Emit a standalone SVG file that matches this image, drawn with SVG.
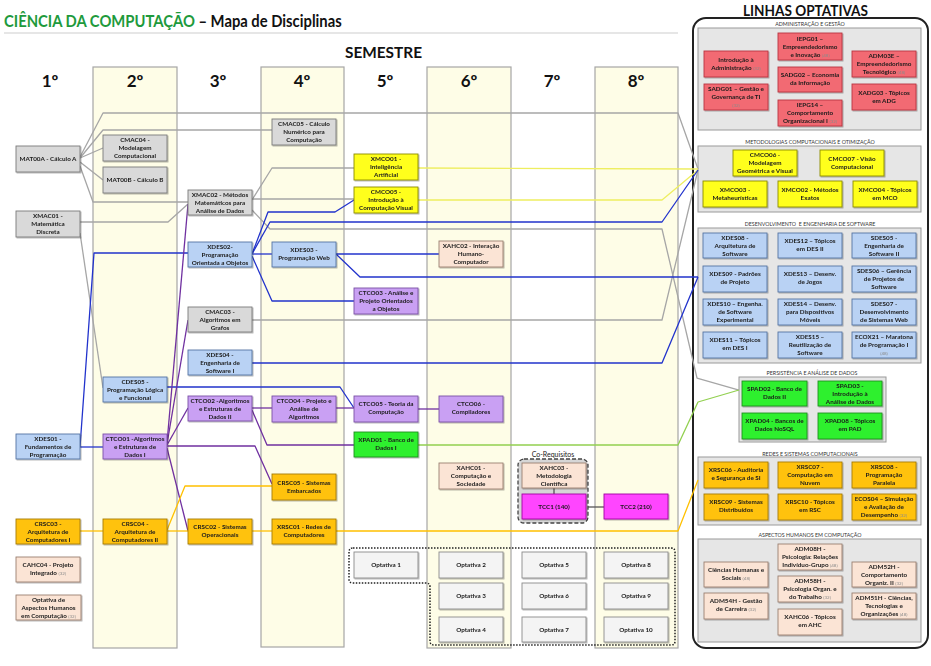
<svg xmlns="http://www.w3.org/2000/svg" width="931" height="666" viewBox="0 0 931 666">
<defs>
<style>
.band{fill:#fefde7;stroke:#a6a6a6;stroke-width:1.2}
.hdr{font-family:Lato,"Liberation Sans",sans-serif;font-weight:bold;font-size:17px;fill:#111;text-anchor:middle}
.n rect{stroke-width:0.9}
.t{font-family:Lato,"Liberation Sans",sans-serif;font-weight:bold;font-size:6.3px;fill:#1a1a1a;text-anchor:middle}
.s{font-size:4.5px;font-weight:normal;fill:#8a8a8a}
.gray{fill:#d9d9d9;stroke:#7a7a7a}
.blue{fill:#b9d2f4;stroke:#5573a3}
.purp{fill:#c9a0f3;stroke:#7a4fa5}
.yel{fill:#ffff1e;stroke:#8c8c00}
.org{fill:#ffc20e;stroke:#a67c00}
.grn{fill:#2ef02e;stroke:#1f8f1f}
.pch{fill:#fbe4d5;stroke:#9a7f70}
.mag{fill:#ff44ff;stroke:#a000a0}
.red{fill:#f26b73;stroke:#b8343e}
.opt{fill:#f4f4f4;stroke:#8a8a8a}
.grp{fill:#e6e6e6;stroke:#9a9a9a;stroke-width:1}
.gl{font-family:Lato,"Liberation Sans",sans-serif;font-size:5.3px;fill:#333;text-anchor:middle}
.c{fill:none;stroke-width:1.3;stroke-linejoin:round}
.cg{stroke:#a6a6a6}
.cb{stroke:#2233cc}
.cp{stroke:#7030a0}
.cy{stroke:#eeee60}
.cgr{stroke:#92d050}
.co{stroke:#ffc000}
.cd{stroke:#555}
</style>
<filter id="sh" x="-10%" y="-10%" width="130%" height="140%">
<feDropShadow dx="1" dy="1" stdDeviation="0.6" flood-color="#000" flood-opacity="0.3"/>
</filter>
</defs>
<rect width="931" height="666" fill="#fff"/>

<!-- Title -->
<g transform="translate(4,27) scale(0.87,1)">
<text x="0" y="0" font-family="Lato,'Liberation Sans',sans-serif" font-weight="bold" font-size="17" fill="#111"><tspan fill="#1e9a3c">CIÊNCIA DA COMPUTAÇÃO</tspan> – Mapa de Disciplinas</text>
</g>
<line x1="4" y1="33" x2="678" y2="33" stroke="#e6e6e6" stroke-width="2"/>
<text x="345" y="58" font-family="Lato,'Liberation Sans',sans-serif" font-weight="bold" font-size="15" fill="#111" textLength="77" lengthAdjust="spacingAndGlyphs">SEMESTRE</text>

<!-- bands -->
<g id="bands">
<rect class="band" x="93" y="67" width="84" height="581"/>
<rect class="band" x="261" y="67" width="83" height="580"/>
<rect class="band" x="427" y="67" width="84" height="581"/>
<rect class="band" x="595" y="67" width="83" height="581"/>
</g>
<g id="headers">
<text class="hdr" x="50" y="87">1º</text>
<text class="hdr" x="135" y="87">2º</text>
<text class="hdr" x="218" y="87">3º</text>
<text class="hdr" x="302" y="87">4º</text>
<text class="hdr" x="385" y="87">5º</text>
<text class="hdr" x="469" y="87">6º</text>
<text class="hdr" x="552" y="87">7º</text>
<text class="hdr" x="636" y="87">8º</text>
</g>

<!-- LINHAS OPTATIVAS container -->
<text x="743" y="16" font-family="Lato,'Liberation Sans',sans-serif" font-weight="bold" font-size="15" fill="#111" textLength="125" lengthAdjust="spacingAndGlyphs">LINHAS OPTATIVAS</text>
<rect x="693" y="18" width="235" height="630" rx="13" fill="#fff" stroke="#222" stroke-width="2"/>
<g id="groups">
<rect class="grp" x="698" y="28" width="223" height="102"/>
<text class="gl" x="810" y="26">ADMINISTRAÇÃO E GESTÃO</text>
<rect class="grp" x="698" y="146" width="223" height="66"/>
<text class="gl" x="810" y="144">METODOLOGIAS COMPUTACIONAIS E OTIMIZAÇÃO</text>
<rect class="grp" x="698" y="228" width="223" height="135"/>
<text class="gl" x="810" y="225.5" xml:space="preserve">DESENVOLVIMENTO  E ENGENHARIA DE SOFTWARE</text>
<rect class="grp" x="739" y="377" width="147" height="65"/>
<text class="gl" x="812" y="375">PERSISTÊNCIA E ANÁLISE DE DADOS</text>
<rect class="grp" x="698" y="457" width="223" height="68"/>
<text class="gl" x="810" y="455.5">REDES E SISTEMAS COMPUTACIONAIS</text>
<rect class="grp" x="698" y="539" width="223" height="103"/>
<text class="gl" x="810" y="537">ASPECTOS HUMANOS EM COMPUTAÇÃO</text>
</g>

<!-- connectors -->
<g id="connectors">
<polyline class="c cg" points="80,157 103,113 678,113 698,169"/>
<polyline class="c cg" points="80,158 103,130 272,130"/>
<polyline class="c cg" points="80,158 103,148"/>
<polyline class="c cg" points="80,162 103,180"/>
<polyline class="c cg" points="80,166 93,202 188,202"/>
<polyline class="c cg" points="80,222 168,222 188,204"/>
<polyline class="c cg" points="80,233 103,388"/>
<polyline class="c cg" points="252,200 272,168 354,168"/>
<polyline class="c cg" points="252,199 354,199"/>
<polyline class="c cg" points="252,210 270,229 662,229 697,378 739,390"/>
<polyline class="c cg" points="252,320 662,320 698,170"/>

<polyline class="c cy" points="418,168 698,169"/>
<polyline class="c cy" points="418,200 662,200 698,170"/>

<polyline class="c cb" points="80,447 103,447"/>
<polyline class="c cb" points="80,447 94,253 188,253"/>
<polyline class="c cb" points="252,254 272,254"/>
<polyline class="c cb" points="252,254 268,212 335,212 354,200"/>
<polyline class="c cb" points="252,254 270,222 662,222 698,170"/>
<polyline class="c cb" points="252,256 272,301 354,301"/>
<polyline class="c cb" points="336,254 439,254"/>
<polyline class="c cb" points="336,254 360,277 698,277"/>
<polyline class="c cb" points="252,363 662,363 698,277"/>
<polyline class="c cb" points="167,387 340,387 354,408"/>

<polyline class="c cp" points="167,443 188,204"/>
<polyline class="c cp" points="167,444 188,320"/>
<polyline class="c cp" points="167,445 188,408"/>
<polyline class="c cp" points="167,446 255,446 272,484"/>
<polyline class="c cp" points="167,448 188,531"/>
<polyline class="c cp" points="252,408 272,408"/>
<polyline class="c cp" points="252,410 267,445 354,445"/>
<polyline class="c cp" points="336,408 354,408"/>
<polyline class="c cp" points="418,409 439,409"/>

<polyline class="c cgr" points="418,445 678,445 698,402 739,390"/>

<polyline class="c co" points="80,531 103,531"/>
<polyline class="c co" points="167,531 188,531"/>
<polyline class="c co" points="167,530 185,486 272,486"/>
<polyline class="c co" points="252,531 272,531"/>
<polyline class="c co" points="336,531 678,531 698,480"/>

<polyline class="c cd" points="586,507 604,507"/>
</g>

<!-- co-requisites and optativas frames -->
<g id="coreq">
<text x="553" y="457" font-family="Lato,'Liberation Sans',sans-serif" font-size="7" fill="#222" text-anchor="middle">Co-Requisitos</text>
<rect x="518" y="459" width="70" height="64" rx="6" fill="#d6d6d6" stroke="#444" stroke-width="1.3" stroke-dasharray="4 2"/>
<line x1="554" y1="488" x2="554" y2="494" stroke="#555" stroke-width="1.3"/>
</g>
<path id="optframe" d="M353,548 H671 Q675,548 675,552 V641 Q675,645 671,645 H434 Q430,645 430,641 V587 Q430,583 426,583 H353 Q349,583 349,579 V552 Q349,548 353,548 Z" fill="none" stroke="#222" stroke-width="1.5" stroke-dasharray="1.5 1.5"/>

<!-- Column 1 -->
<g id="MAT00A" class="n" filter="url(#sh)"><rect class="gray" x="16" y="146" width="64" height="26"/><text class="t"><tspan x="48" y="161">MAT00A - Cálculo A</tspan></text></g>
<g id="XMAC01" class="n" filter="url(#sh)"><rect class="gray" x="16" y="211" width="64" height="26"/><text class="t"><tspan x="48" y="218">XMAC01 -</tspan><tspan x="48" y="226">Matemática</tspan><tspan x="48" y="234">Discreta</tspan></text></g>
<g id="XDES01" class="n" filter="url(#sh)"><rect class="blue" x="16" y="434" width="64" height="25"/><text class="t"><tspan x="48" y="441">XDES01 -</tspan><tspan x="48" y="449">Fundamentos de</tspan><tspan x="48" y="457">Programação</tspan></text></g>
<g id="CRSC03" class="n" filter="url(#sh)"><rect class="org" x="16" y="519" width="64" height="25"/><text class="t"><tspan x="48" y="526">CRSC03 -</tspan><tspan x="48" y="534">Arquitetura de</tspan><tspan x="48" y="542">Computadores I</tspan></text></g>
<g id="CAHC04" class="n" filter="url(#sh)"><rect class="pch" x="16" y="557" width="64" height="25"/><text class="t"><tspan x="48" y="567">CAHC04 - Projeto</tspan><tspan x="48" y="575">Integrado <tspan class="s">(32)</tspan></tspan></text></g>
<g id="OPTAHC" class="n" filter="url(#sh)"><rect class="pch" x="16" y="595" width="65" height="25"/><text class="t"><tspan x="48.5" y="602">Optativa de</tspan><tspan x="48.5" y="610">Aspectos Humanos</tspan><tspan x="48.5" y="618">em Computação <tspan class="s">(32)</tspan></tspan></text></g>

<!-- Column 2 -->
<g id="CMAC04" class="n" filter="url(#sh)"><rect class="gray" x="103" y="135" width="64" height="26"/><text class="t"><tspan x="135" y="142">CMAC04 -</tspan><tspan x="135" y="150">Modelagem</tspan><tspan x="135" y="158">Computacional</tspan></text></g>
<g id="MAT00B" class="n" filter="url(#sh)"><rect class="gray" x="103" y="167" width="64" height="26"/><text class="t"><tspan x="135" y="182">MAT00B - Cálculo B</tspan></text></g>
<g id="CDES05" class="n" filter="url(#sh)"><rect class="blue" x="103" y="377" width="64" height="25"/><text class="t"><tspan x="135" y="384">CDES05 -</tspan><tspan x="135" y="392">Programação Lógica</tspan><tspan x="135" y="400">e Funcional</tspan></text></g>
<g id="CTCO01" class="n" filter="url(#sh)"><rect class="purp" x="103" y="434" width="64" height="25"/><text class="t"><tspan x="135" y="441">CTCO01 -Algoritmos</tspan><tspan x="135" y="449">e Estruturas de</tspan><tspan x="135" y="457">Dados I</tspan></text></g>
<g id="CRSC04" class="n" filter="url(#sh)"><rect class="org" x="103" y="519" width="64" height="25"/><text class="t"><tspan x="135" y="526">CRSC04 -</tspan><tspan x="135" y="534">Arquitetura de</tspan><tspan x="135" y="542">Computadores II</tspan></text></g>

<!-- Column 3 -->
<g id="XMAC02" class="n" filter="url(#sh)"><rect class="gray" x="188" y="190" width="64" height="25"/><text class="t"><tspan x="220" y="197">XMAC02 - Métodos</tspan><tspan x="220" y="205">Matemáticos para</tspan><tspan x="220" y="213">Análise de Dados</tspan></text></g>
<g id="XDES02" class="n" filter="url(#sh)"><rect class="blue" x="188" y="242" width="64" height="25"/><text class="t"><tspan x="220" y="249">XDES02-</tspan><tspan x="220" y="257">Programação</tspan><tspan x="220" y="265">Orientada a Objetos</tspan></text></g>
<g id="CMAC03" class="n" filter="url(#sh)"><rect class="gray" x="188" y="307" width="64" height="25"/><text class="t"><tspan x="220" y="314">CMAC03 -</tspan><tspan x="220" y="322">Algoritmos em</tspan><tspan x="220" y="330">Grafos</tspan></text></g>
<g id="XDES04" class="n" filter="url(#sh)"><rect class="blue" x="188" y="350" width="64" height="25"/><text class="t"><tspan x="220" y="357">XDES04 -</tspan><tspan x="220" y="365">Engenharia de</tspan><tspan x="220" y="373">Software I</tspan></text></g>
<g id="CTCO02" class="n" filter="url(#sh)"><rect class="purp" x="188" y="396" width="64" height="25"/><text class="t"><tspan x="220" y="403">CTCO02 -Algoritmos</tspan><tspan x="220" y="411">e Estruturas de</tspan><tspan x="220" y="419">Dados II</tspan></text></g>
<g id="CRSC02" class="n" filter="url(#sh)"><rect class="org" x="188" y="519" width="64" height="25"/><text class="t"><tspan x="220" y="529">CRSC02 - Sistemas</tspan><tspan x="220" y="537">Operacionais</tspan></text></g>

<!-- Column 4 -->
<g id="CMAC05" class="n" filter="url(#sh)"><rect class="gray" x="272" y="119" width="64" height="26"/><text class="t"><tspan x="304" y="126">CMAC05 - Cálculo</tspan><tspan x="304" y="134">Numérico para</tspan><tspan x="304" y="142">Computação</tspan></text></g>
<g id="XDES03" class="n" filter="url(#sh)"><rect class="blue" x="272" y="242" width="64" height="25"/><text class="t"><tspan x="304" y="252">XDES03 -</tspan><tspan x="304" y="260">Programação Web</tspan></text></g>
<g id="CTCO04" class="n" filter="url(#sh)"><rect class="purp" x="272" y="396" width="64" height="26"/><text class="t"><tspan x="304" y="403">CTCO04 - Projeto e</tspan><tspan x="304" y="411">Análise de</tspan><tspan x="304" y="419">Algoritmos</tspan></text></g>
<g id="CRSC05" class="n" filter="url(#sh)"><rect class="org" x="272" y="474" width="64" height="26"/><text class="t"><tspan x="304" y="485">CRSC05 - Sistemas</tspan><tspan x="304" y="493">Embarcados</tspan></text></g>
<g id="XRSC01" class="n" filter="url(#sh)"><rect class="org" x="272" y="519" width="64" height="25"/><text class="t"><tspan x="304" y="529">XRSC01 - Redes de</tspan><tspan x="304" y="537">Computadores</tspan></text></g>

<!-- Column 5 -->
<g id="XMCO01" class="n" filter="url(#sh)"><rect class="yel" x="354" y="154" width="64" height="26"/><text class="t"><tspan x="386" y="161">XMCO01 -</tspan><tspan x="386" y="169">Inteligência</tspan><tspan x="386" y="177">Artificial</tspan></text></g>
<g id="CMCO05" class="n" filter="url(#sh)"><rect class="yel" x="354" y="187" width="64" height="26"/><text class="t"><tspan x="386" y="194">CMCO05 -</tspan><tspan x="386" y="202">Introdução à</tspan><tspan x="386" y="210">Computação Visual</tspan></text></g>
<g id="CTCO03" class="n" filter="url(#sh)"><rect class="purp" x="354" y="288" width="64" height="26"/><text class="t"><tspan x="386" y="295">CTCO03 - Análise e</tspan><tspan x="386" y="303">Projeto Orientados</tspan><tspan x="386" y="311">a Objetos</tspan></text></g>
<g id="CTCO05" class="n" filter="url(#sh)"><rect class="purp" x="354" y="396" width="64" height="26"/><text class="t"><tspan x="386" y="406">CTCO05 - Teoria da</tspan><tspan x="386" y="414">Computação</tspan></text></g>
<g id="XPAD01" class="n" filter="url(#sh)"><rect class="grn" x="354" y="432" width="64" height="25"/><text class="t"><tspan x="386" y="442">XPAD01 - Banco de</tspan><tspan x="386" y="450">Dados I</tspan></text></g>
<g id="OPT1" class="n" filter="url(#sh)"><rect class="opt" x="354" y="552" width="64" height="26"/><text class="t"><tspan x="386" y="567">Optativa 1</tspan></text></g>

<!-- Column 6 -->
<g id="XAHC02" class="n" filter="url(#sh)"><rect class="pch" x="439" y="241" width="64" height="26"/><text class="t"><tspan x="471" y="248">XAHC02 - Interação</tspan><tspan x="471" y="256">Humano-</tspan><tspan x="471" y="264">Computador</tspan></text></g>
<g id="CTCO06" class="n" filter="url(#sh)"><rect class="purp" x="439" y="396" width="64" height="26"/><text class="t"><tspan x="471" y="406">CTCO06 -</tspan><tspan x="471" y="414">Compiladores</tspan></text></g>
<g id="XAHC01" class="n" filter="url(#sh)"><rect class="pch" x="439" y="463" width="64" height="26"/><text class="t"><tspan x="471" y="470">XAHC01 -</tspan><tspan x="471" y="478">Computação e</tspan><tspan x="471" y="486">Sociedade</tspan></text></g>
<g id="OPT2" class="n" filter="url(#sh)"><rect class="opt" x="439" y="552" width="64" height="26"/><text class="t"><tspan x="471" y="567">Optativa 2</tspan></text></g>
<g id="OPT3" class="n" filter="url(#sh)"><rect class="opt" x="439" y="583" width="64" height="26"/><text class="t"><tspan x="471" y="598">Optativa 3</tspan></text></g>
<g id="OPT4" class="n" filter="url(#sh)"><rect class="opt" x="439" y="617" width="64" height="25"/><text class="t"><tspan x="471" y="632">Optativa 4</tspan></text></g>

<!-- Column 7 -->
<g id="XAHC03" class="n" filter="url(#sh)"><rect class="pch" x="522" y="463" width="64" height="25"/><text class="t"><tspan x="554" y="470">XAHC03 -</tspan><tspan x="554" y="478">Metodologia</tspan><tspan x="554" y="486">Científica</tspan></text></g>
<g id="TCC1" class="n" filter="url(#sh)"><rect class="mag" x="522" y="494" width="64" height="25"/><text class="t"><tspan x="554" y="509">TCC1 (140)</tspan></text></g>
<g id="OPT5" class="n" filter="url(#sh)"><rect class="opt" x="522" y="552" width="64" height="26"/><text class="t"><tspan x="554" y="567">Optativa 5</tspan></text></g>
<g id="OPT6" class="n" filter="url(#sh)"><rect class="opt" x="522" y="583" width="64" height="26"/><text class="t"><tspan x="554" y="598">Optativa 6</tspan></text></g>
<g id="OPT7" class="n" filter="url(#sh)"><rect class="opt" x="522" y="617" width="64" height="25"/><text class="t"><tspan x="554" y="632">Optativa 7</tspan></text></g>

<!-- Column 8 -->
<g id="TCC2" class="n" filter="url(#sh)"><rect class="mag" x="604" y="494" width="64" height="25"/><text class="t"><tspan x="636" y="509">TCC2 (210)</tspan></text></g>
<g id="OPT8" class="n" filter="url(#sh)"><rect class="opt" x="604" y="552" width="64" height="26"/><text class="t"><tspan x="636" y="567">Optativa 8</tspan></text></g>
<g id="OPT9" class="n" filter="url(#sh)"><rect class="opt" x="604" y="583" width="64" height="26"/><text class="t"><tspan x="636" y="598">Optativa 9</tspan></text></g>
<g id="OPT10" class="n" filter="url(#sh)"><rect class="opt" x="604" y="617" width="64" height="25"/><text class="t"><tspan x="636" y="632">Optativa 10</tspan></text></g>

<!-- Administração e Gestão -->
<g id="ADMINT" class="n" filter="url(#sh)"><rect class="red" x="704" y="51" width="64" height="26"/><text class="t"><tspan x="736" y="62">Introdução à</tspan><tspan x="736" y="70">Administração <tspan class="s">(32)</tspan></tspan></text></g>
<g id="SADG01" class="n" filter="url(#sh)"><rect class="red" x="704" y="84" width="64" height="26"/><text class="t"><tspan x="736" y="91">SADG01 – Gestão e</tspan><tspan x="736" y="99">Governança de TI</tspan><tspan x="736" y="107" class="s">(32)</tspan></text></g>
<g id="IEPG01" class="n" filter="url(#sh)"><rect class="red" x="778" y="33" width="64" height="27"/><text class="t"><tspan x="810" y="41">IEPG01 –</tspan><tspan x="810" y="49">Empreendedorismo</tspan><tspan x="810" y="57">e Inovação <tspan class="s">(48)</tspan></tspan></text></g>
<g id="SADG02" class="n" filter="url(#sh)"><rect class="red" x="778" y="67" width="64" height="25"/><text class="t"><tspan x="810" y="77">SADG02 – Economia</tspan><tspan x="810" y="85">da Informação</tspan></text></g>
<g id="IEPG14" class="n" filter="url(#sh)"><rect class="red" x="778" y="100" width="64" height="26"/><text class="t"><tspan x="810" y="107">IEPG14 –</tspan><tspan x="810" y="115">Comportamento</tspan><tspan x="810" y="123">Organizacional I <tspan class="s">(32)</tspan></tspan></text></g>
<g id="ADM03E" class="n" filter="url(#sh)"><rect class="red" x="852" y="51" width="64" height="26"/><text class="t"><tspan x="884" y="58">ADM03E –</tspan><tspan x="884" y="66">Empreendedorismo</tspan><tspan x="884" y="74">Tecnológico <tspan class="s">(48)</tspan></tspan></text></g>
<g id="XADG03" class="n" filter="url(#sh)"><rect class="red" x="852" y="84" width="64" height="26"/><text class="t"><tspan x="884" y="95">XADG03 - Tópicos</tspan><tspan x="884" y="103">em ADG</tspan></text></g>

<!-- Metodologias -->
<g id="CMCO06" class="n" filter="url(#sh)"><rect class="yel" x="733" y="150" width="64" height="26"/><text class="t"><tspan x="765" y="157">CMCO06 -</tspan><tspan x="765" y="165">Modelagem</tspan><tspan x="765" y="173">Geométrica e Visual</tspan></text></g>
<g id="CMCO07" class="n" filter="url(#sh)"><rect class="yel" x="820" y="150" width="64" height="26"/><text class="t"><tspan x="852" y="161">CMCO07 - Visão</tspan><tspan x="852" y="169">Computacional</tspan></text></g>
<g id="XMCO03" class="n" filter="url(#sh)"><rect class="yel" x="703" y="181" width="64" height="26"/><text class="t"><tspan x="735" y="192">XMCO03 -</tspan><tspan x="735" y="200">Metaheurísticas</tspan></text></g>
<g id="XMCO02" class="n" filter="url(#sh)"><rect class="yel" x="778" y="181" width="64" height="26"/><text class="t"><tspan x="810" y="192">XMCO02 - Métodos</tspan><tspan x="810" y="200">Exatos</tspan></text></g>
<g id="XMCO04" class="n" filter="url(#sh)"><rect class="yel" x="853" y="181" width="64" height="26"/><text class="t"><tspan x="885" y="192">XMCO04 - Tópicos</tspan><tspan x="885" y="200">em MCO</tspan></text></g>

<!-- Desenvolvimento e Engenharia de Software -->
<g id="XDES08" class="n" filter="url(#sh)"><rect class="blue" x="703" y="233" width="64" height="25"/><text class="t"><tspan x="735" y="240">XDES08 -</tspan><tspan x="735" y="248">Arquitetura de</tspan><tspan x="735" y="256">Software</tspan></text></g>
<g id="XDES12" class="n" filter="url(#sh)"><rect class="blue" x="778" y="233" width="64" height="25"/><text class="t"><tspan x="810" y="243">XDES12 – Tópicos</tspan><tspan x="810" y="251">em DES II</tspan></text></g>
<g id="SDES05" class="n" filter="url(#sh)"><rect class="blue" x="852" y="233" width="64" height="25"/><text class="t"><tspan x="884" y="240">SDES05 -</tspan><tspan x="884" y="248">Engenharia de</tspan><tspan x="884" y="256">Software II</tspan></text></g>
<g id="XDES09" class="n" filter="url(#sh)"><rect class="blue" x="703" y="266" width="64" height="26"/><text class="t"><tspan x="735" y="276">XDES09 - Padrões</tspan><tspan x="735" y="284">de Projeto</tspan></text></g>
<g id="XDES13" class="n" filter="url(#sh)"><rect class="blue" x="778" y="266" width="64" height="26"/><text class="t"><tspan x="810" y="276">XDES13 – Desenv.</tspan><tspan x="810" y="284">de Jogos</tspan></text></g>
<g id="SDES06" class="n" filter="url(#sh)"><rect class="blue" x="852" y="266" width="64" height="26"/><text class="t"><tspan x="884" y="273">SDES06 – Gerência</tspan><tspan x="884" y="281">de Projetos de</tspan><tspan x="884" y="289">Software</tspan></text></g>
<g id="XDES10" class="n" filter="url(#sh)"><rect class="blue" x="703" y="299" width="64" height="26"/><text class="t"><tspan x="735" y="306">XDES10 – Engenha.</tspan><tspan x="735" y="314">de Software</tspan><tspan x="735" y="322">Experimental</tspan></text></g>
<g id="XDES14" class="n" filter="url(#sh)"><rect class="blue" x="778" y="299" width="64" height="26"/><text class="t"><tspan x="810" y="306">XDES14 – Desenv.</tspan><tspan x="810" y="314">para Dispositivos</tspan><tspan x="810" y="322">Móveis</tspan></text></g>
<g id="SDES07" class="n" filter="url(#sh)"><rect class="blue" x="852" y="299" width="64" height="26"/><text class="t"><tspan x="884" y="306">SDES07 -</tspan><tspan x="884" y="314">Desenvolvimento</tspan><tspan x="884" y="322">de Sistemas Web</tspan></text></g>
<g id="XDES11" class="n" filter="url(#sh)"><rect class="blue" x="703" y="332" width="64" height="26"/><text class="t"><tspan x="735" y="342">XDES11 – Tópicos</tspan><tspan x="735" y="350">em DES I</tspan></text></g>
<g id="XDES15" class="n" filter="url(#sh)"><rect class="blue" x="778" y="332" width="64" height="26"/><text class="t"><tspan x="810" y="339">XDES15 –</tspan><tspan x="810" y="347">Reutilização de</tspan><tspan x="810" y="355">Software</tspan></text></g>
<g id="ECOX21" class="n" filter="url(#sh)"><rect class="blue" x="852" y="332" width="64" height="26"/><text class="t"><tspan x="884" y="339">ECOX21 – Maratona</tspan><tspan x="884" y="347">de Programação I</tspan><tspan x="884" y="355" class="s">(48)</tspan></text></g>

<!-- Persistência -->
<g id="SPAD02" class="n" filter="url(#sh)"><rect class="grn" x="742" y="381" width="65" height="25"/><text class="t"><tspan x="774.5" y="391">SPAD02 - Banco de</tspan><tspan x="774.5" y="399">Dados II</tspan></text></g>
<g id="SPAD03" class="n" filter="url(#sh)"><rect class="grn" x="818" y="381" width="64" height="25"/><text class="t"><tspan x="850" y="388">SPAD03 -</tspan><tspan x="850" y="396">Introdução à</tspan><tspan x="850" y="404">Análise de Dados</tspan></text></g>
<g id="XPAD04" class="n" filter="url(#sh)"><rect class="grn" x="742" y="413" width="65" height="26"/><text class="t"><tspan x="774.5" y="423">XPAD04 - Bancos de</tspan><tspan x="774.5" y="431">Dados NoSQL</tspan></text></g>
<g id="XPAD08" class="n" filter="url(#sh)"><rect class="grn" x="818" y="413" width="64" height="26"/><text class="t"><tspan x="850" y="423">XPAD08 - Tópicos</tspan><tspan x="850" y="431">em PAD</tspan></text></g>

<!-- Redes -->
<g id="XRSC06" class="n" filter="url(#sh)"><rect class="org" x="704" y="462" width="64" height="26"/><text class="t"><tspan x="736" y="472">XRSC06 - Auditoria</tspan><tspan x="736" y="480">e Segurança de SI</tspan></text></g>
<g id="XRSC07" class="n" filter="url(#sh)"><rect class="org" x="778" y="462" width="64" height="26"/><text class="t"><tspan x="810" y="469">XRSC07 -</tspan><tspan x="810" y="477">Computação em</tspan><tspan x="810" y="485">Nuvem</tspan></text></g>
<g id="XRSC08" class="n" filter="url(#sh)"><rect class="org" x="852" y="462" width="64" height="26"/><text class="t"><tspan x="884" y="469">XRSC08 -</tspan><tspan x="884" y="477">Programação</tspan><tspan x="884" y="485">Paralela</tspan></text></g>
<g id="XRSC09" class="n" filter="url(#sh)"><rect class="org" x="704" y="494" width="64" height="26"/><text class="t"><tspan x="736" y="504">XRSC09 - Sistemas</tspan><tspan x="736" y="512">Distribuídos</tspan></text></g>
<g id="XRSC10" class="n" filter="url(#sh)"><rect class="org" x="778" y="494" width="64" height="26"/><text class="t"><tspan x="810" y="504">XRSC10 - Tópicos</tspan><tspan x="810" y="512">em RSC</tspan></text></g>
<g id="ECOS04" class="n" filter="url(#sh)"><rect class="org" x="852" y="494" width="64" height="26"/><text class="t"><tspan x="884" y="501">ECOS04 – Simulação</tspan><tspan x="884" y="509">e Avaliação de</tspan><tspan x="884" y="517">Desempenho <tspan class="s">(32)</tspan></tspan></text></g>

<!-- Aspectos Humanos -->
<g id="ADM08H" class="n" filter="url(#sh)"><rect class="pch" x="778" y="544" width="64" height="26"/><text class="t"><tspan x="810" y="551">ADM08H -</tspan><tspan x="810" y="559">Psicologia: Relações</tspan><tspan x="810" y="567">Indivíduo-Grupo <tspan class="s">(48)</tspan></tspan></text></g>
<g id="ADM58H" class="n" filter="url(#sh)"><rect class="pch" x="778" y="576" width="64" height="26"/><text class="t"><tspan x="810" y="583">ADM58H -</tspan><tspan x="810" y="591">Psicologia Organ. e</tspan><tspan x="810" y="599">do Trabalho <tspan class="s">(32)</tspan></tspan></text></g>
<g id="XAHC06" class="n" filter="url(#sh)"><rect class="pch" x="778" y="609" width="64" height="26"/><text class="t"><tspan x="810" y="619">XAHC06 - Tópicos</tspan><tspan x="810" y="627">em AHC</tspan></text></g>
<g id="CHS" class="n" filter="url(#sh)"><rect class="pch" x="704" y="562" width="64" height="25"/><text class="t"><tspan x="736" y="572">Ciências Humanas e</tspan><tspan x="736" y="580">Sociais <tspan class="s">(48)</tspan></tspan></text></g>
<g id="ADM54H" class="n" filter="url(#sh)"><rect class="pch" x="704" y="593" width="64" height="26"/><text class="t"><tspan x="736" y="603">ADM54H - Gestão</tspan><tspan x="736" y="611">de Carreira <tspan class="s">(32)</tspan></tspan></text></g>
<g id="ADM52H" class="n" filter="url(#sh)"><rect class="pch" x="852" y="562" width="64" height="25"/><text class="t"><tspan x="884" y="569">ADM52H -</tspan><tspan x="884" y="577">Comportamento</tspan><tspan x="884" y="585">Organiz. II <tspan class="s">(32)</tspan></tspan></text></g>
<g id="ADM51H" class="n" filter="url(#sh)"><rect class="pch" x="852" y="593" width="64" height="26"/><text class="t"><tspan x="884" y="600">ADM51H - Ciências,</tspan><tspan x="884" y="608">Tecnologias e</tspan><tspan x="884" y="616">Organizações <tspan class="s">(48)</tspan></tspan></text></g>
</svg>
